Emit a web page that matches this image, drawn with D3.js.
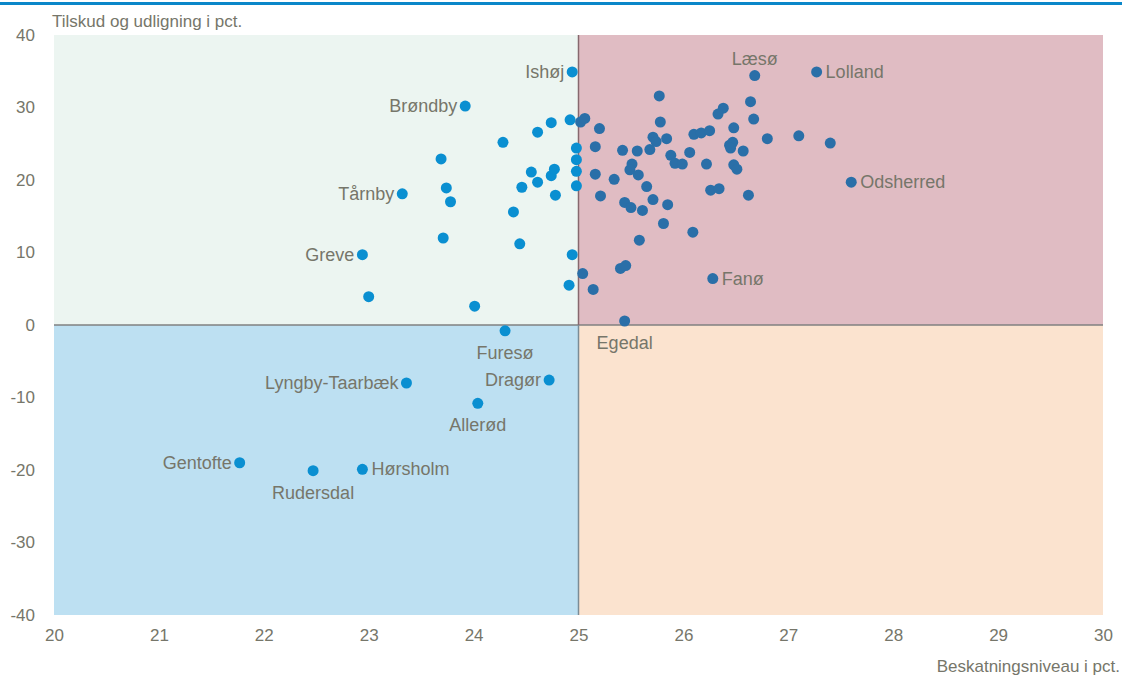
<!DOCTYPE html>
<html>
<head>
<meta charset="utf-8">
<script src="https://cdn.jsdelivr.net/npm/d3@7"></script>
<style>
  body { margin: 0; background: #fff; }
  svg text { font-family: "Liberation Sans Narrow", "Arial Narrow", "Liberation Sans", sans-serif; fill: #76766a; }
</style>
</head>
<body>
<svg id="chart"></svg>
<script>
// kommuner: beskatningsniveau (x) og tilskud/udligning (y)
var taxLevel = [24.94, 23.92, 23.69, 23.74, 23.78, 23.32, 23.71, 22.94, 23.00, 24.01, 24.30,
  24.28, 24.61, 24.74, 24.92, 24.55, 24.46, 24.61, 24.74, 24.77, 24.78, 24.38, 24.44, 24.94, 24.91,
  24.98, 24.98, 24.98, 24.98,
  23.36, 24.72, 24.04, 21.77, 22.47, 22.94,
  25.77, 25.02, 25.06, 25.20, 25.78, 26.64, 26.38, 26.33, 26.67, 26.48, 26.80, 27.10, 27.40, 27.60,
  26.10, 26.17, 26.25, 25.71, 25.74, 25.84, 25.16, 25.42, 25.56, 25.68, 25.88, 25.92, 25.99, 26.06,
  26.22, 26.44, 26.47, 26.45, 26.57, 26.48, 26.51, 25.16, 25.34, 25.51, 25.49, 25.57, 25.65, 25.21,
  25.44, 25.50, 25.61, 25.71, 25.85, 26.26, 26.34, 26.62, 25.81, 26.09, 25.58, 26.68, 27.27,
  25.04, 25.40, 25.45, 25.14, 25.44, 26.28];
var subsidy = [34.9, 30.2, 22.9, 18.9, 17.0, 18.1, 12.0, 9.7, 3.9, 2.6, -0.8,
  25.2, 26.6, 27.9, 28.3, 21.1, 19.0, 19.7, 20.6, 21.5, 17.9, 15.6, 11.2, 9.7, 5.5,
  24.4, 22.8, 21.2, 19.2,
  -8.0, -7.6, -10.8, -19.0, -20.1, -19.9,
  31.6, 28.0, 28.5, 27.1, 28.0, 30.8, 29.9, 29.1, 28.4, 27.2, 25.7, 26.1, 25.1, 19.7,
  26.3, 26.5, 26.8, 25.9, 25.3, 25.7, 24.6, 24.1, 24.0, 24.2, 23.4, 22.3, 22.2, 23.8,
  22.2, 24.8, 25.2, 24.4, 24.0, 22.1, 21.5, 20.8, 20.1, 22.2, 21.4, 20.7, 19.1, 17.8,
  16.9, 16.2, 15.8, 17.3, 16.6, 18.6, 18.8, 17.9, 14.0, 12.8, 11.7, 34.4, 34.9,
  7.1, 7.8, 8.2, 4.9, 0.55, 6.4];

var namedMunis = ["Ishøj", "Brøndby", "Tårnby", "Greve", "Furesø", "Lyngby-Taarbæk", "Dragør",
  "Allerød", "Gentofte", "Rudersdal", "Hørsholm", "Læsø", "Lolland", "Odsherred", "Fanø", "Egedal"];
var namedIndex = [0, 1, 5, 7, 10, 29, 30, 31, 32, 33, 34, 88, 89, 48, 95, 94];
var labelSide = ["left", "left", "left", "left", "below", "left", "left",
  "below", "left", "below", "right", "above", "right", "right", "right", "below"];

var xTicks = [20, 21, 22, 23, 24, 25, 26, 27, 28, 29, 30];
var yTicks = [40, 30, 20, 10, 0, -10, -20, -30, -40];

var W = 1122, H = 676;
var margin = { top: 35, right: 19, bottom: 61, left: 54 };

var svg = d3.select("#chart").attr("width", W).attr("height", H);

var x = d3.scaleLinear().domain([20, 30]).range([margin.left, W - margin.right]);
var y = d3.scaleLinear().domain([-40, 40]).range([H - margin.bottom, margin.top]);

// blå linje i toppen
svg.append("rect").attr("x", 0).attr("y", 2).attr("width", W).attr("height", 3).attr("fill", "#0a87c9");

// kvadranter
var quads = [
  { x0: 20, x1: 25, y0: 0, y1: 40, c: "#ecf5f1" },
  { x0: 25, x1: 30, y0: 0, y1: 40, c: "#e0bcc3" },
  { x0: 20, x1: 25, y0: -40, y1: 0, c: "#bde0f2" },
  { x0: 25, x1: 30, y0: -40, y1: 0, c: "#fbe3cf" }
];
svg.selectAll("rect.quad").data(quads).enter().append("rect")
  .attr("class", "quad")
  .attr("x", function(d){ return x(d.x0); })
  .attr("y", function(d){ return y(d.y1); })
  .attr("width", function(d){ return x(d.x1) - x(d.x0); })
  .attr("height", function(d){ return y(d.y0) - y(d.y1); })
  .attr("fill", function(d){ return d.c; });

// akselinjer gennem 25 / 0
svg.append("line").attr("x1", x(20)).attr("x2", x(30)).attr("y1", y(0)).attr("y2", y(0))
  .attr("stroke", "#808080").attr("stroke-width", 1.5);
svg.append("line").attr("x1", x(25)).attr("x2", x(25)).attr("y1", y(40)).attr("y2", y(0))
  .attr("stroke", "#86686e").attr("stroke-width", 1.5);
svg.append("line").attr("x1", x(25)).attr("x2", x(25)).attr("y1", y(0)).attr("y2", y(-40))
  .attr("stroke", "#7b8c96").attr("stroke-width", 1.5);

// akser
var yAxis = d3.axisLeft(y).tickValues(yTicks).tickSize(0).tickPadding(19)
  .tickFormat(function(d){ return String(d); });
var gy = svg.append("g").attr("transform", "translate(" + margin.left + ",0)").call(yAxis);
gy.select(".domain").remove();
gy.selectAll("text").style("font-size", "17px").attr("fill", "#76766a");

var xAxis = d3.axisBottom(x).tickValues(xTicks).tickSize(0).tickPadding(14);
var gx = svg.append("g").attr("transform", "translate(0," + (H - margin.bottom) + ")").call(xAxis);
gx.select(".domain").remove();
gx.selectAll("text").style("font-size", "17px").attr("fill", "#76766a");

// titler
svg.append("text").attr("x", 52).attr("y", 27).style("font-size", "17px").text("Tilskud og udligning i pct.");
svg.append("text").attr("x", 1120).attr("y", 672).attr("text-anchor", "end")
  .style("font-size", "17px").text("Beskatningsniveau i pct.");

// punkter
var pts = taxLevel.map(function(v, i){ return { x: v, y: subsidy[i] }; });
svg.selectAll("circle.dot").data(pts).enter().append("circle")
  .attr("class", "dot")
  .attr("cx", function(d){ return x(d.x); })
  .attr("cy", function(d){ return y(d.y); })
  .attr("r", 5.5)
  .attr("fill", function(d){ return d.x > 25 ? "#2a6fa8" : "#0a8fd1"; });

// navne
namedMunis.forEach(function(name, k){
  var p = pts[namedIndex[k]];
  var px = x(p.x), py = y(p.y);
  var t = svg.append("text").style("font-size", "18px").text(name);
  switch(labelSide[k]){
    case "left":
      t.attr("x", px - 8).attr("y", py + 6).attr("text-anchor", "end");
      break;
    case "right":
      t.attr("x", px + 9).attr("y", py + 6).attr("text-anchor", "start");
      break;
    case "above":
      t.attr("x", px).attr("y", py - 11).attr("text-anchor", "middle");
      break;
    case "below":
      t.attr("x", px).attr("y", py + 28).attr("text-anchor", "middle");
      break;
  }
});
</script>
</body>
</html>
